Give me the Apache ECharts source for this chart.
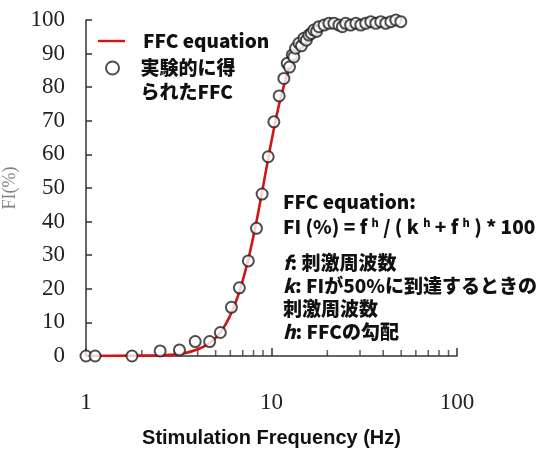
<!DOCTYPE html>
<html>
<head>
<meta charset="utf-8">
<script src="https://cdn.jsdelivr.net/npm/echarts@6/dist/echarts.min.js"></script>
<style>
  html, body { margin: 0; padding: 0; background: #fff; }
  #chart { width: 541px; height: 450px; }
</style>
</head>
<body>
<div id="chart"></div>
<script>
// measured FFC points (Hz, FI %)
const measFreq = [1.0, 1.12, 1.77, 2.51, 3.19, 3.88, 4.64, 5.3, 6.08, 6.71, 7.5, 8.3, 8.9, 9.6, 10.3, 11.0, 11.66,
  12.15, 12.5, 12.94, 13.2, 13.48, 14.06, 14.5, 14.96, 15.4, 15.9, 16.4, 16.9, 17.5, 18.0, 19.2, 20.4, 21.7, 23.1,
  24.1, 25.1, 26.7, 28.5, 30.3, 32.2, 34.3, 36.5, 38.8, 41.3, 44.0, 46.8, 49.8];
const measFI = [0, 0, 0, 1.5, 1.8, 4.3, 4.3, 7.0, 14.5, 20.3, 28.3, 38.0, 48.2, 59.3, 69.7, 77.4, 82.6,
  87.1, 86.0, 89.6, 89.0, 91.6, 93.1, 92.3, 94.6, 94.0, 95.5, 96.0, 97.0, 96.6, 98.0, 98.5, 99.0, 99.0, 98.5,
  98.0, 99.0, 98.5, 99.0, 98.5, 99.0, 99.5, 99.0, 99.5, 99.0, 99.5, 100, 99.5];

// red FFC equation curve
const curveFreq = [1, 2, 3, 3.5, 4, 4.5, 5, 5.5, 6, 6.5, 7, 7.5, 8, 8.5, 9, 9.5, 10, 11, 12, 13, 14, 15, 16, 18, 20, 25, 30, 40, 50];
const curveFI = [0, 0.1, 0.4, 1.0, 2.0, 3.4, 5.4, 8.3, 12.2, 16.9, 22.5, 28.8, 35.8, 43.0, 50.3, 57.4, 64.0, 75.0,
  82.8, 88.0, 91.6, 94.1, 95.8, 97.8, 98.8, 99.6, 99.8, 99.95, 100];

// minor ticks of the log axis
const minorTicks = [2, 3, 4, 5, 6, 7, 8, 9, 20, 30, 40, 50, 60, 70, 80, 90];

const seriesNames = ['FFC equation', '実験的に得\nられたFFC'];

const jp = '"Noto Sans CJK JP", "Noto Sans", sans-serif';
const serif = '"Liberation Serif", "DejaVu Serif", serif';

const chart = echarts.init(document.getElementById('chart'), null, { renderer: 'canvas' });

const noteLine = (top, text) => ({
  type: 'text',
  left: 283,
  top: top,
  style: {
    text: text,
    fill: '#111',
    font: '900 19px ' + jp,
    rich: {
      b: { fontSize: 19, fontWeight: 900, fontFamily: jp, fill: '#111' },
      i: { fontSize: 19, fontWeight: 900, fontStyle: 'italic', fontFamily: jp, fill: '#111' },
      sup: { fontSize: 11, fontWeight: 900, fontFamily: jp, fill: '#111', padding: [0, 0, 9, 0] }
    }
  }
});

const legendText = {
  fontFamily: jp, fontWeight: 900, fontSize: 19, color: '#111', lineHeight: 24,
  rich: { g: { width: 13 } }
};

const option = {
  animation: false,
  backgroundColor: '#fff',
  grid: { left: 86, right: 84, top: 20, bottom: 94, outerBoundsMode: 'none' },
  legend: [
    {
      data: [{ name: seriesNames[0], icon: 'path://M0,0h27v2.4h-27z' }],
      left: 98,
      top: 29,
      padding: 0,
      itemWidth: 27,
      itemHeight: 13,
      formatter: name => '{g|}' + name,
      textStyle: legendText
    },
    {
      data: [seriesNames[1]],
      left: 105,
      top: 32,
      padding: 0,
      itemWidth: 20,
      itemHeight: 13,
      // blank first line keeps the circle level with the first text line
      formatter: name => '\u00a0\n' + name.split('\n').map(s => '{g|}' + s).join('\n'),
      textStyle: legendText
    }
  ],
  xAxis: {
    type: 'log',
    logBase: 10,
    min: 1,
    max: 100,
    name: 'Stimulation Frequency (Hz)',
    nameLocation: 'middle',
    nameGap: 72,
    nameTextStyle: { fontFamily: '"Liberation Sans", Arial, sans-serif', fontWeight: 'bold', fontSize: 20, color: '#111' },
    axisLine: { lineStyle: { color: '#333', width: 1.5 } },
    axisTick: { inside: true, length: 8, lineStyle: { color: '#333', width: 1.5 } },
    axisLabel: { fontFamily: serif, fontSize: 23, color: '#222', margin: 35 },
    splitLine: { show: false }
  },
  yAxis: {
    type: 'value',
    min: 0,
    max: 100,
    interval: 10,
    name: 'FI(%)',
    nameLocation: 'middle',
    nameGap: 58,
    nameTextStyle: { fontFamily: serif, fontSize: 18, color: '#808080' },
    axisLine: { show: true, lineStyle: { color: '#333', width: 1.5 } },
    axisTick: { show: true, inside: true, length: 6, lineStyle: { color: '#333', width: 1.5 } },
    axisLabel: { fontFamily: serif, fontSize: 23, color: '#222', margin: 21 },
    splitLine: { show: false }
  },
  graphic: [
    noteLine(192, '{b|FFC equation:}'),
    noteLine(217, '{b|FI (%) = f }{sup|h}{b| / ( k }{sup|h}{b| + f }{sup|h}{b| ) * 100}'),
    noteLine(253, '{i|f}{b|: 刺激周波数}'),
    noteLine(276, '{i|k}{b|: FIが50%に到達するときの}'),
    noteLine(299, '{b|刺激周波数}'),
    noteLine(322, '{i|h}{b|: FFCの勾配}')
  ],
  series: [
    {
      name: seriesNames[0],
      type: 'line',
      data: curveFreq.map((f, i) => [f, curveFI[i]]),
      smooth: true,
      symbol: 'none',
      lineStyle: { color: '#d21414', width: 2.6 },
      itemStyle: { color: '#d21414' },
      z: 2
    },
    {
      name: seriesNames[1],
      type: 'scatter',
      data: measFreq.map((f, i) => [f, measFI[i]]),
      symbol: 'emptyCircle',
      symbolSize: 11,
      itemStyle: { color: '#222', borderColor: '#222', borderWidth: 1.4 },
      z: 3
    },
    {
      // minor ticks drawn at their values
      type: 'scatter',
      data: minorTicks.map(t => [t, 0]),
      symbol: 'rect',
      symbolSize: [1.5, 6],
      symbolOffset: [0, -3],
      itemStyle: { color: '#333' },
      silent: true,
      z: 1
    }
  ]
};

chart.setOption(option);
</script>
</body>
</html>
